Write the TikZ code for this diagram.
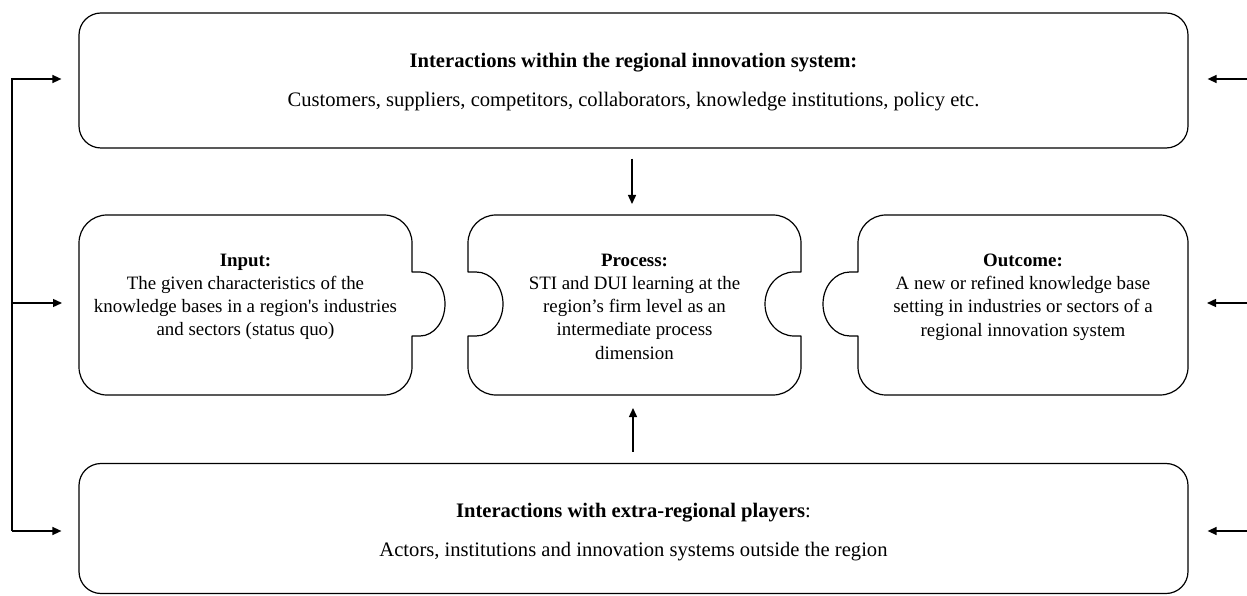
\documentclass[tikz,border=0pt]{standalone}
\usepackage{fontspec}
\setmainfont{Liberation Serif}[Ligatures=TeXOff]
\usetikzlibrary{arrows.meta}
\begin{document}
\begin{tikzpicture}[x=1pt,y=1pt,
  box/.style={draw, line width=1.2pt, line join=round},
  arr/.style={line width=1.4pt, -{Triangle[length=9pt,width=8pt]}},
  bigtxt/.style={font=\fontsize{20.6}{24}\selectfont, inner sep=0pt, anchor=base},
  midtxt/.style={font=\fontsize{18.9}{23.3}\selectfont, inner sep=0pt, anchor=north, align=center}]
\useasboundingbox (0,0) rectangle (1247,595);

% top and bottom boxes
\node[box, rounded corners=22pt, minimum width=1109pt, minimum height=135pt, inner sep=0pt] (sys) at (633.5,514.5) {};
\node[box, rounded corners=22pt, minimum width=1109pt, minimum height=130pt, inner sep=0pt] (ext) at (633.5,66.5) {};

% Input piece (knob on the right)
\draw[box] (107,380) -- (384,380) arc[start angle=90,end angle=0,radius=28pt]
  -- (412,323) -- (420,323) arc[start angle=90,end angle=-90,x radius=25pt,y radius=32pt]
  -- (412,259) -- (412,228) arc[start angle=0,end angle=-90,radius=28pt]
  -- (107,200) arc[start angle=270,end angle=180,radius=28pt]
  -- (79,352) arc[start angle=180,end angle=90,radius=28pt] -- cycle;

% Process piece (notches on both sides)
\draw[box] (496,380) -- (773,380) arc[start angle=90,end angle=0,radius=28pt]
  -- (801,323) -- (794,323) arc[start angle=90,end angle=270,x radius=29pt,y radius=32pt]
  -- (801,259) -- (801,228) arc[start angle=0,end angle=-90,radius=28pt]
  -- (496,200) arc[start angle=270,end angle=180,radius=28pt]
  -- (468,259) -- (476,259) arc[start angle=-90,end angle=90,x radius=27pt,y radius=32pt]
  -- (468,323) -- (468,352) arc[start angle=180,end angle=90,radius=28pt] -- cycle;

% Outcome piece (knob on the left)
\draw[box] (886,380) -- (1160,380) arc[start angle=90,end angle=0,radius=28pt]
  -- (1188,228) arc[start angle=0,end angle=-90,radius=28pt]
  -- (886,200) arc[start angle=270,end angle=180,radius=28pt]
  -- (858,259) -- (850,259) arc[start angle=-90,end angle=-270,x radius=27pt,y radius=32pt]
  -- (858,323) -- (858,352) arc[start angle=180,end angle=90,radius=28pt] -- cycle;

% anchor points of the pieces
\coordinate (procN) at (632,380);
\coordinate (procS) at (633,200);
\coordinate (inW) at (79,292);
\coordinate (outE) at (1188,292);

% texts
\node[bigtxt] (systitle) at (633.5,527) {\textbf{Interactions within the regional innovation system:}};
\node[bigtxt] (systext) at (633.5,488) {Customers, suppliers, competitors, collaborators, knowledge institutions, policy etc.};
\node[bigtxt] (exttitle) at (633.5,78) {\textbf{Interactions with extra-regional players}:};
\node[bigtxt] (exttext) at (633.5,39) {Actors, institutions and innovation systems outside the region};

\node[midtxt] (intxt) at (245.5,341.5) {\textbf{Input:}\\The given characteristics of the\\knowledge bases in a region's industries\\and sectors (status quo)};
\node[midtxt] (proctxt) at (634.5,341.5) {\textbf{Process:}\\STI and DUI learning at the\\region’s firm level as an\\intermediate process\\dimension};
\node[midtxt] (outtxt) at (1023,341.5) {\textbf{Outcome:}\\A new or refined knowledge base\\setting in industries or sectors of a\\regional innovation system};

% vertical arrows
\draw[arr, shorten <=10pt, shorten >=11pt] (procN |- sys.south) -- (procN);
\draw[arr, shorten <=11pt, shorten >=13pt] (procS |- ext.north) -- (procS);

% left feedback
\coordinate (L1) at (12,516);
\coordinate (L2) at (12,292);
\coordinate (L3) at (12,64);
\draw[arr, shorten >=17pt] (L3) -- (L1) -- (L1 -| sys.west);
\draw[arr, shorten >=17pt] (L2) -- (inW);
\draw[arr, shorten >=17pt] (L3) -- (L3 -| ext.west);

% right arrows
\coordinate (R1) at (1247,516);
\coordinate (R2) at (1247,292);
\coordinate (R3) at (1247,64);
\draw[arr, shorten >=19pt] (R1) -- (R1 -| sys.east);
\draw[arr, shorten >=19pt] (R2) -- (outE);
\draw[arr, shorten >=19pt] (R3) -- (R3 -| ext.east);
\end{tikzpicture}
\end{document}
